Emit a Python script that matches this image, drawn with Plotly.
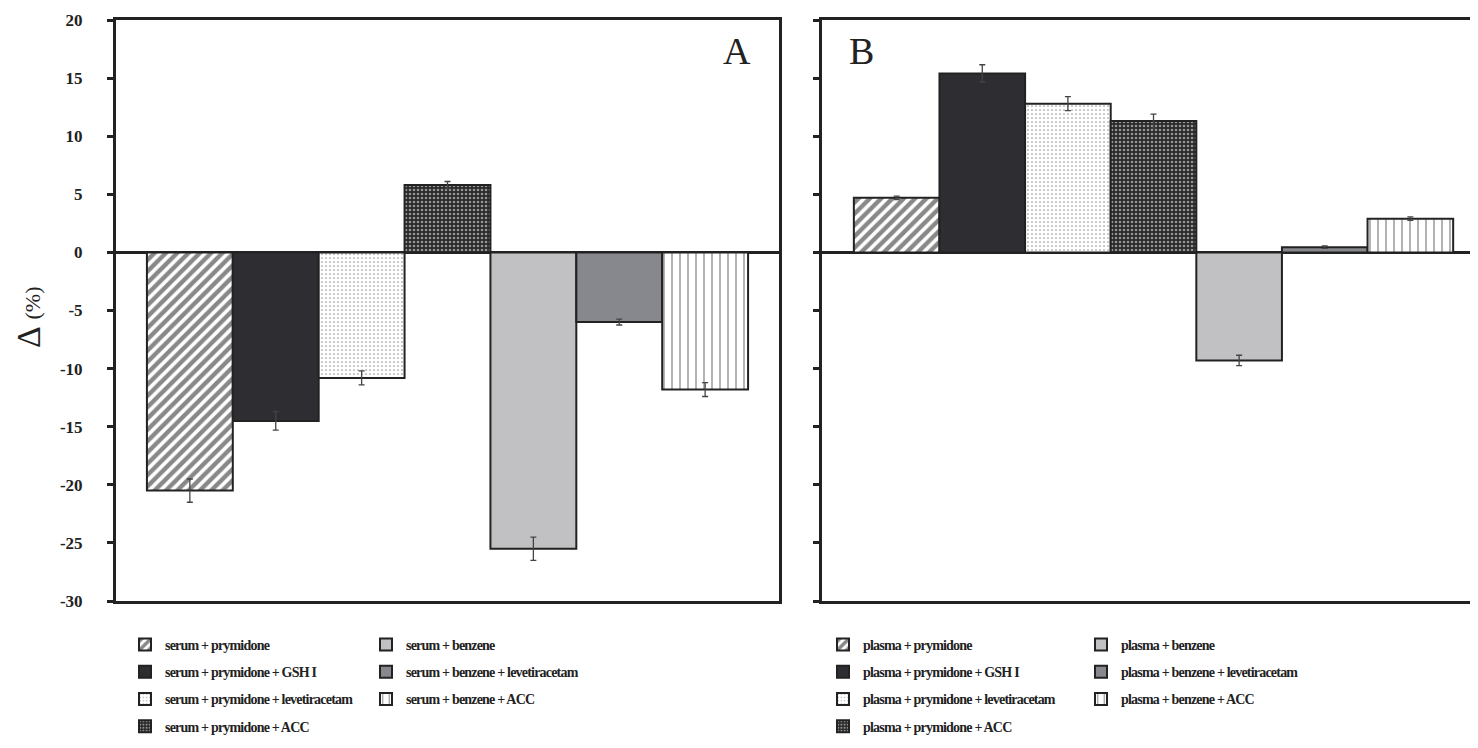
import plotly.graph_objects as go

# ---------------- data ----------------
labels_A = ["serum + prymidone", "serum + prymidone + GSH I",
            "serum + prymidone + levetiracetam", "serum + prymidone + ACC",
            "serum + benzene", "serum + benzene + levetiracetam",
            "serum + benzene + ACC"]
values_A = [-20.5, -14.5, -10.8, 5.8, -25.5, -6.0, -11.8]
errors_A = [1.0, 0.8, 0.6, 0.3, 1.0, 0.25, 0.6]

labels_B = ["plasma + prymidone", "plasma + prymidone + GSH I",
            "plasma + prymidone + levetiracetam", "plasma + prymidone + ACC",
            "plasma + benzene", "plasma + benzene + levetiracetam",
            "plasma + benzene + ACC"]
values_B = [4.7, 15.4, 12.8, 11.3, -9.3, 0.45, 2.9]
errors_B = [0.15, 0.75, 0.6, 0.6, 0.45, 0.1, 0.15]

y_ticks = [20, 15, 10, 5, 0, -5, -10, -15, -20, -25, -30]
y_tick_text = ["20", "15", "10", "5", "0", "-5", "-10", "-15", "-20", "-25", "-30"]

# ---------------- styles ----------------
OFF = 8                      # default body margin of the html page
W, H = 1478 - OFF, 748 - OFF
SERIF = "Liberation Serif, Times New Roman, serif"
AX = "#222222"

styles = [
    dict(color="white", pattern=dict(shape="/", size=8, solidity=0.55, fgcolor="#111", bgcolor="white")),
    dict(color="#2e2e32", pattern=None),
    dict(color="white", pattern=dict(shape=".", size=4, solidity=0.15, fgcolor="#333", bgcolor="white")),
    dict(color="#2a2a2a", pattern=dict(shape=".", size=4, solidity=0.35, fgcolor="white", bgcolor="#2a2a2a")),
    dict(color="#c1c0c2", pattern=None),
    dict(color="#87888d", pattern=None),
    dict(color="white", pattern=dict(shape="|", size=8, solidity=0.16, fgcolor="#111", bgcolor="white")),
]

fig = go.Figure()

def legend_name(lab):
    return f"<span style='letter-spacing:-0.8px'>{lab}</span>"

def add_panel(labels, values, errors, xa, ya, legends, prefix):
    for i, (lab, v, e) in enumerate(zip(labels, values, errors)):
        st = styles[i]
        marker = dict(color=st["color"], line=dict(color="#222", width=2))
        if st["pattern"] is not None:
            marker["pattern"] = st["pattern"]
        fig.add_trace(go.Bar(
            x=[i], y=[v], width=1, name=legend_name(lab),
            marker=marker,
            error_y=dict(type="data", array=[e], visible=True,
                         color="#444", thickness=1.3, width=3),
            xaxis=xa, yaxis=ya,
            legend=legends[0] if i < 4 else legends[1],
            legendgroup=f"{prefix}{i}",
            showlegend=True,
        ))

add_panel(labels_A, values_A, errors_A, "x", "y", ("legend", "legend2"), "a")
add_panel(labels_B, values_B, errors_B, "x2", "y2", ("legend3", "legend4"), "b")

def px_x(p):
    return (p - OFF) / W

def px_y(p):
    return 1 - (p - OFF) / H

ydom = [px_y(601), px_y(20)]

common_y = dict(range=[-30, 20], tickvals=y_ticks, ticktext=y_tick_text,
                showline=True, linecolor=AX, automargin=False,
                linewidth=3, ticks="outside", ticklen=6, tickwidth=2.5, tickcolor=AX,
                showgrid=False, zeroline=True, zerolinecolor=AX, zerolinewidth=2.5,
                domain=ydom, fixedrange=True)
common_x = dict(showline=True, linecolor=AX, linewidth=3, mirror=True, automargin=False,
                showticklabels=False, ticks="", showgrid=False, zeroline=False,
                fixedrange=True)

fig.update_layout(
    width=W, height=H,
    margin=dict(l=0, r=0, t=0, b=0, autoexpand=False),
    paper_bgcolor="white", plot_bgcolor="white",
    barmode="overlay",
    font=dict(family=SERIF, color="#222"),
    xaxis=dict(common_x, domain=[px_x(116), px_x(779)], range=[-0.86, 6.86], anchor="y"),
    yaxis=dict(common_y, anchor="x", mirror=True, showticklabels=True,
               tickfont=dict(family=SERIF, size=17, weight="bold", color="#222"),
               ticklabelstandoff=21),
    xaxis2=dict(common_x, domain=[px_x(822), 1.0], range=[-0.872, 6.79], anchor="y2"),
    yaxis2=dict(common_y, anchor="x2", mirror=False, showticklabels=False),
)

leg_common = dict(orientation="v", xanchor="left", yanchor="top", traceorder="grouped",
                  tracegroupgap=6, bgcolor="rgba(0,0,0,0)",
                  font=dict(family=SERIF, size=14, weight="bold", color="#222"))
fig.update_layout(
    legend=dict(leg_common, x=px_x(125), y=px_y(629)),
    legend2=dict(leg_common, x=px_x(366), y=px_y(629)),
    legend3=dict(leg_common, x=px_x(823), y=px_y(629)),
    legend4=dict(leg_common, x=px_x(1081), y=px_y(629)),
)

annotations = [
    dict(text="A", x=px_x(737), y=px_y(51), xref="paper", yref="paper",
         showarrow=False, xanchor="center", yanchor="middle",
         font=dict(family=SERIF, size=38, color="#222")),
    dict(text="B", x=px_x(861), y=px_y(51), xref="paper", yref="paper",
         showarrow=False, xanchor="center", yanchor="middle",
         font=dict(family=SERIF, size=38, color="#222")),
    dict(text="Δ <span style='font-size:22px'>(%)</span>", x=px_x(29), y=px_y(318),
         xref="paper", yref="paper", showarrow=False, textangle=-90,
         xanchor="center", yanchor="middle",
         font=dict(family=SERIF, size=34, color="#222")),
]
fig.update_layout(annotations=annotations)

fig.write_html("out.html")
